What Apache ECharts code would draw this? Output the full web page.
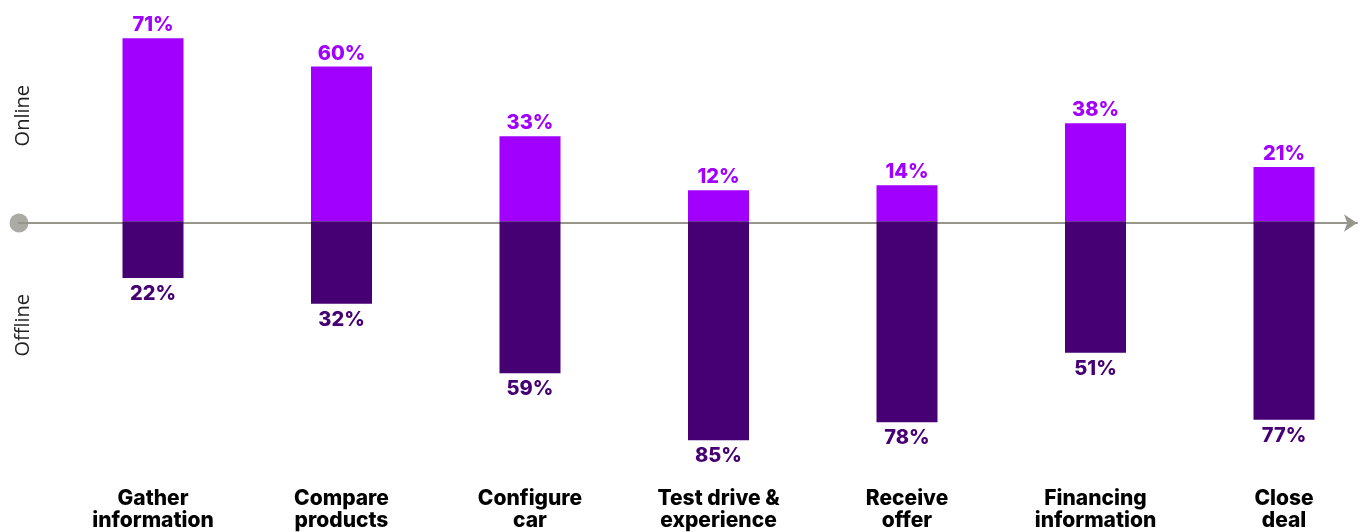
<!DOCTYPE html>
<html><head><meta charset="utf-8">
<script src="https://cdn.jsdelivr.net/npm/echarts@6/dist/echarts.min.js"></script>
<style>html,body{margin:0;padding:0;background:#fff}#c{width:1363px;height:532px}</style>
</head><body><div id="c"></div>
<script>
const categories = ['Gather\ninformation','Compare\nproducts','Configure\ncar','Test drive &\nexperience','Receive\noffer','Financing\ninformation','Close\ndeal'];
const online = [71, 60, 33, 12, 14, 38, 21];
const offline = [22, 32, 59, 85, 78, 51, 77];
const FONT = 'Inter, Roboto, sans-serif';
const chart = echarts.init(document.getElementById('c'));
chart.setOption({
  animation: false,
  grid: [
    {left: 153, right: 79, top: 15, bottom: 49},
    {left: 19, right: 6, top: 15, bottom: 49}
  ],
  xAxis: [
    {type: 'category', gridIndex: 0, data: categories, boundaryGap: false,
     axisLine: {show: false}, axisTick: {show: false}, splitLine: {show: false},
     axisLabel: {color: '#000', fontFamily: FONT, fontWeight: 800, fontSize: 21, lineHeight: 22, margin: 9, interval: 0}},
    {type: 'value', gridIndex: 1, min: 0, max: 1, axisLabel: {show: false}, axisTick: {show: false}, splitLine: {show: false},
     axisLine: {show: true, onZero: true, lineStyle: {color: '#96968C', width: 2}, symbol: ['none', 'arrow'], symbolSize: [13, 13]}}
  ],
  yAxis: [
    {type: 'value', gridIndex: 0, min: -100, max: 80, show: false},
    {type: 'value', gridIndex: 1, min: -100, max: 80, show: false}
  ],
  graphic: [
    {type: 'text', left: 13, top: 85, rotation: Math.PI / 2, style: {text: 'Online', fill: '#222', font: '20px "Open Sans", sans-serif'}},
    {type: 'text', left: 13, top: 294, rotation: Math.PI / 2, style: {text: 'Offline', fill: '#222', font: '20px "Open Sans", sans-serif'}}
  ],
  series: [
    {type: 'bar', xAxisIndex: 0, yAxisIndex: 0, data: online, barWidth: 61, barGap: '-100%', clip: false,
     itemStyle: {color: '#A100FF'},
     label: {show: true, position: 'top', distance: 3, formatter: '{c}%', color: '#A100FF', fontFamily: FONT, fontWeight: 800, fontSize: 20}},
    {type: 'bar', xAxisIndex: 0, yAxisIndex: 0, data: offline.map(v => -v), barWidth: 61, barGap: '-100%', clip: false,
     itemStyle: {color: '#460073'},
     label: {show: true, position: 'bottom', distance: 6, formatter: p => (-p.value) + '%', color: '#460073', fontFamily: FONT, fontWeight: 800, fontSize: 20}},
    {type: 'scatter', xAxisIndex: 1, yAxisIndex: 1, data: [[0, 0]], symbol: 'circle', symbolSize: 19,
     itemStyle: {color: '#96968C'}, silent: true}
  ]
});
</script></body></html>
